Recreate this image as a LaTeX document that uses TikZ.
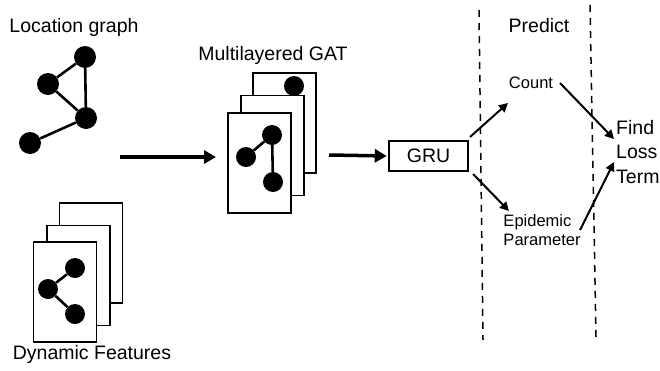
\documentclass[tikz,border=0pt]{standalone}
\usepackage{fontspec}
\setmainfont{Liberation Sans}
\usetikzlibrary{arrows.meta}
\begin{document}
\begin{tikzpicture}[x=1pt,y=-1pt,
  dot/.style={circle,fill=black,inner sep=0pt,minimum size=22pt},
  sdot/.style={circle,fill=black,inner sep=0pt,minimum size=20pt},
  sheet/.style={draw,fill=white,line width=1.5pt,inner sep=0pt,minimum width=63pt,minimum height=100pt},
  lbl/.style={inner sep=0pt},
  big/.style={font=\fontsize{19.5}{24.5}\selectfont},
  small/.style={font=\fontsize{16.5}{19}\selectfont},
  edge/.style={line width=2.6pt},
  bigarrow/.style={line width=3.5pt,-{Triangle[length=12pt,width=13pt]}},
  thinarrow/.style={line width=2pt,-{Triangle[length=9pt,width=9pt]}},
  sep/.style={line width=1.5pt,dash pattern=on 7pt off 6pt}]
\useasboundingbox (0,0) rectangle (660,370);

% Location graph
\node[lbl,big] (lgt) at (74,27) {Location graph};
\node[dot] (la) at (85,57) {};
\node[dot] (lb) at (48,84) {};
\node[dot] (lc) at (86,118) {};
\node[dot] (ld) at (30,143) {};
\draw[edge] (la) -- (lb);
\draw[edge] (la) -- (lc);
\draw[edge] (lb) -- (lc);
\draw[edge] (lc) -- (ld);

% Dynamic features
\node[sheet] (d3) at (91,253) {};
\node[sheet] (d2) at (78.5,275.5) {};
\node[sheet] (d1) at (65,292) {};
\node[sdot] (da) at (75,268) {};
\node[sdot] (db) at (48,289) {};
\node[sdot] (dc) at (75,314) {};
\draw[edge] (da) -- (db);
\draw[edge] (db) -- (dc);
\node[lbl,big] (dft) at (92,354) {Dynamic Features};

% arrow to GAT
\coordinate (a1s) at (120,157);
\coordinate (a1e) at (216,157);
\draw[bigarrow] (a1s) -- (a1e);

% Multilayered GAT
\node[lbl,big] (gatt) at (273,55) {Multilayered GAT};
\node[sheet] (g3) at (284.5,123) {};
\node[sheet] (g2) at (272.5,145.5) {};
\node[sheet] (g1) at (259.5,163) {};
\node[sdot] (gback) at (294,86) {};
\node[sdot] (ga) at (272,135) {};
\node[sdot] (gb) at (246,157) {};
\node[sdot] (gc) at (273,182) {};
\draw[edge] (ga) -- (gb);
\draw[edge] (ga) -- (gc);

% GRU
\node[draw,line width=2.5pt,minimum width=79pt,minimum height=30pt,inner sep=0pt,big] (gru) at (428.5,156) {GRU};
\coordinate (a2s) at (329,155);
\draw[bigarrow,shorten >=1pt] (a2s) -- (gru.west);

% dashed separators
\coordinate (s1t) at (479,10);
\coordinate (s1b) at (483,340);
\coordinate (s2t) at (590,5);
\coordinate (s2b) at (596,337);
\draw[sep] (s1t) -- (s1b);
\draw[sep] (s2t) -- (s2b);

% Predict
\node[lbl,big] (pred) at (539,26) {Predict};
\node[lbl,small] (count) at (531,83) {Count};
\node[lbl,small,align=left] (epi) at (542,230) {Epidemic\\Parameter};
\node[lbl,big,align=left,anchor=west] (loss) at (616,152) {Find\\Loss\\Term};

\coordinate (c1s) at (470,137);
\coordinate (c1e) at (508,103);
\coordinate (e1s) at (473,174);
\coordinate (e1e) at (509,211);
\coordinate (c2s) at (560,83);
\coordinate (c2e) at (614,139);
\coordinate (e2s) at (580,230);
\coordinate (e2e) at (614,162);
\draw[thinarrow] (c1s) -- (c1e);
\draw[thinarrow] (e1s) -- (e1e);
\draw[thinarrow] (c2s) -- (c2e);
\draw[thinarrow] (e2s) -- (e2e);
\end{tikzpicture}
\end{document}
